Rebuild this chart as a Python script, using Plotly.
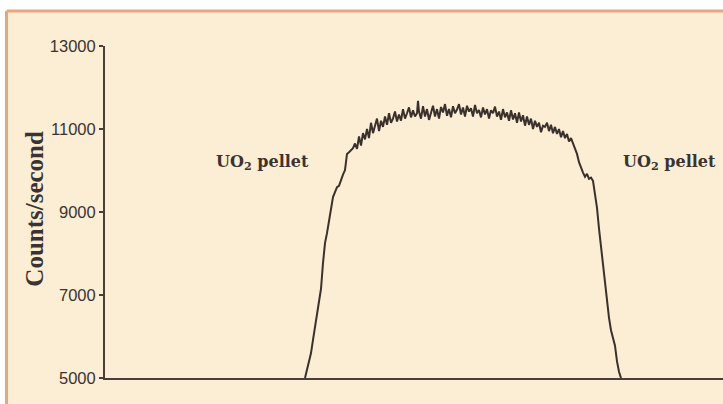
import plotly.graph_objects as go

# Scan position (arbitrary units along the rod) and measured count rate
position = [
    200, 202, 204, 206, 208, 210, 212, 214, 216, 218,
    220, 222, 224, 226, 228, 230, 232, 234, 236, 238,
    240, 242, 244, 246, 248, 250, 252, 254, 256, 258,
    260, 262, 264, 266, 268, 270, 272, 274, 276, 278,
    280, 282, 284, 286, 288, 290, 292, 294, 296, 298,
    300, 302, 304, 306, 308, 310, 312, 313, 314, 316,
    318, 320, 322, 324, 326, 328, 330, 332, 334, 336,
    338, 340, 342, 344, 346, 348, 350, 352, 354, 356,
    358, 360, 362, 364, 366, 368, 370, 372, 374, 376,
    378, 380, 382, 384, 386, 388, 390, 392, 394, 396,
    398, 400, 402, 404, 406, 408, 410, 412, 414, 416,
    418, 420, 422, 424, 426, 428, 430, 432, 434, 436,
    438, 440, 442, 444, 446, 448, 450, 452, 454, 456,
    458, 460, 462, 464, 466, 468, 470, 472, 474, 476,
    478, 480, 482, 484, 486, 488, 490, 492, 494, 496,
    498, 500, 502, 504, 506, 508, 510, 512, 514, 516,
]
counts = [
    5000, 5180, 5380, 5600, 5920, 6230, 6500, 6830, 7150, 7770,
    8250, 8490, 8810, 9050, 9360, 9480, 9600, 9630, 9780, 9900,
    10010, 10400, 10440, 10490, 10540, 10650, 10520, 10820, 10600, 10900,
    10750, 11000, 10780, 11150, 10900, 11080, 11250, 10950, 11200, 11050,
    11300, 11100, 11380, 11150, 11250, 11420, 11180, 11350, 11200, 11480,
    11250, 11380, 11520, 11280, 11450, 11300, 11380, 11680, 11420, 11250,
    11550, 11300, 11480, 11220, 11400, 11560, 11300, 11480, 11250, 11530,
    11400, 11600, 11320, 11480, 11280, 11550, 11380, 11470, 11600, 11350,
    11520, 11300, 11560, 11420, 11500, 11300, 11580, 11380, 11460, 11280,
    11520, 11350, 11480, 11250, 11450, 11380, 11540, 11300, 11420, 11220,
    11480, 11280, 11400, 11200, 11450, 11230, 11380, 11150, 11400, 11180,
    11330, 11080, 11300, 11100, 11250, 11000, 11200, 11050, 11150, 10920,
    11080, 11050, 11150, 10950, 11100, 10900, 11050, 10880, 11000, 10800,
    10950, 10780, 10880, 10700, 10780, 10650, 10550, 10400, 10200, 10050,
    9950, 9850, 9920, 9800, 9830, 9750, 9450, 9100, 8600, 8150,
    7700, 7200, 6850, 6450, 6150, 5950, 5780, 5400, 5150, 5000,
]

y_ticks = [5000, 7000, 9000, 11000, 13000]
label_text = "UO<sub>2</sub> pellet"
label_positions = [157, 564]
label_level = 10200

peach = "#FCEED5"
border = "#E8A57F"
ink = "#3B3330"

fig = go.Figure()
fig.add_trace(go.Scatter(
    x=position, y=counts, mode="lines",
    line=dict(color="#3A302C", width=2),
    hoverinfo="skip", showlegend=False,
))

for xp in label_positions:
    fig.add_annotation(
        x=xp, y=label_level, xref="x", yref="y", text=label_text,
        showarrow=False, xanchor="center", yanchor="middle",
        font=dict(family="DejaVu Serif", size=16, color=ink, weight="bold"),
    )

fig.add_annotation(
    x=-0.1133, y=0.51, xref="paper", yref="paper", text="<b>Counts/second</b>",
    textangle=-90, showarrow=False, xanchor="center", yanchor="middle",
    font=dict(family="Liberation Serif", size=25, color=ink),
)

# page frame: peach panel with an orange border on the top and left
fig.add_shape(type="rect", xref="paper", yref="paper",
              x0=-0.1594, x1=1.05, y0=-0.2, y1=1.1054,
              fillcolor=peach, line=dict(width=0), layer="below")
fig.add_shape(type="line", xref="paper", yref="paper",
              x0=-0.1594, x1=1.05, y0=1.1054, y1=1.1054,
              line=dict(color=border, width=3), layer="below")
fig.add_shape(type="line", xref="paper", yref="paper",
              x0=-0.1594, x1=-0.1594, y0=-0.2, y1=1.1054,
              line=dict(color=border, width=3), layer="below")

fig.update_layout(
    width=723, height=404,
    margin=dict(l=105, r=0, t=46, b=26),
    paper_bgcolor="white", plot_bgcolor="rgba(0,0,0,0)",
    xaxis=dict(range=[0, 618], showgrid=False, zeroline=False,
               showticklabels=False, ticks="", showline=True,
               linecolor="#4A3E38", linewidth=2),
    yaxis=dict(range=[5000, 13000], tickvals=y_ticks,
               ticktext=[str(v) for v in y_ticks],
               showgrid=False, zeroline=False, showline=True,
               linecolor="#4A3E38", linewidth=2,
               ticks="outside", ticklen=4, tickwidth=1.5, tickcolor="#4A3E38",
               tickfont=dict(family="Liberation Sans", size=16.5, color=ink)),
)

fig.write_html("out.html")
